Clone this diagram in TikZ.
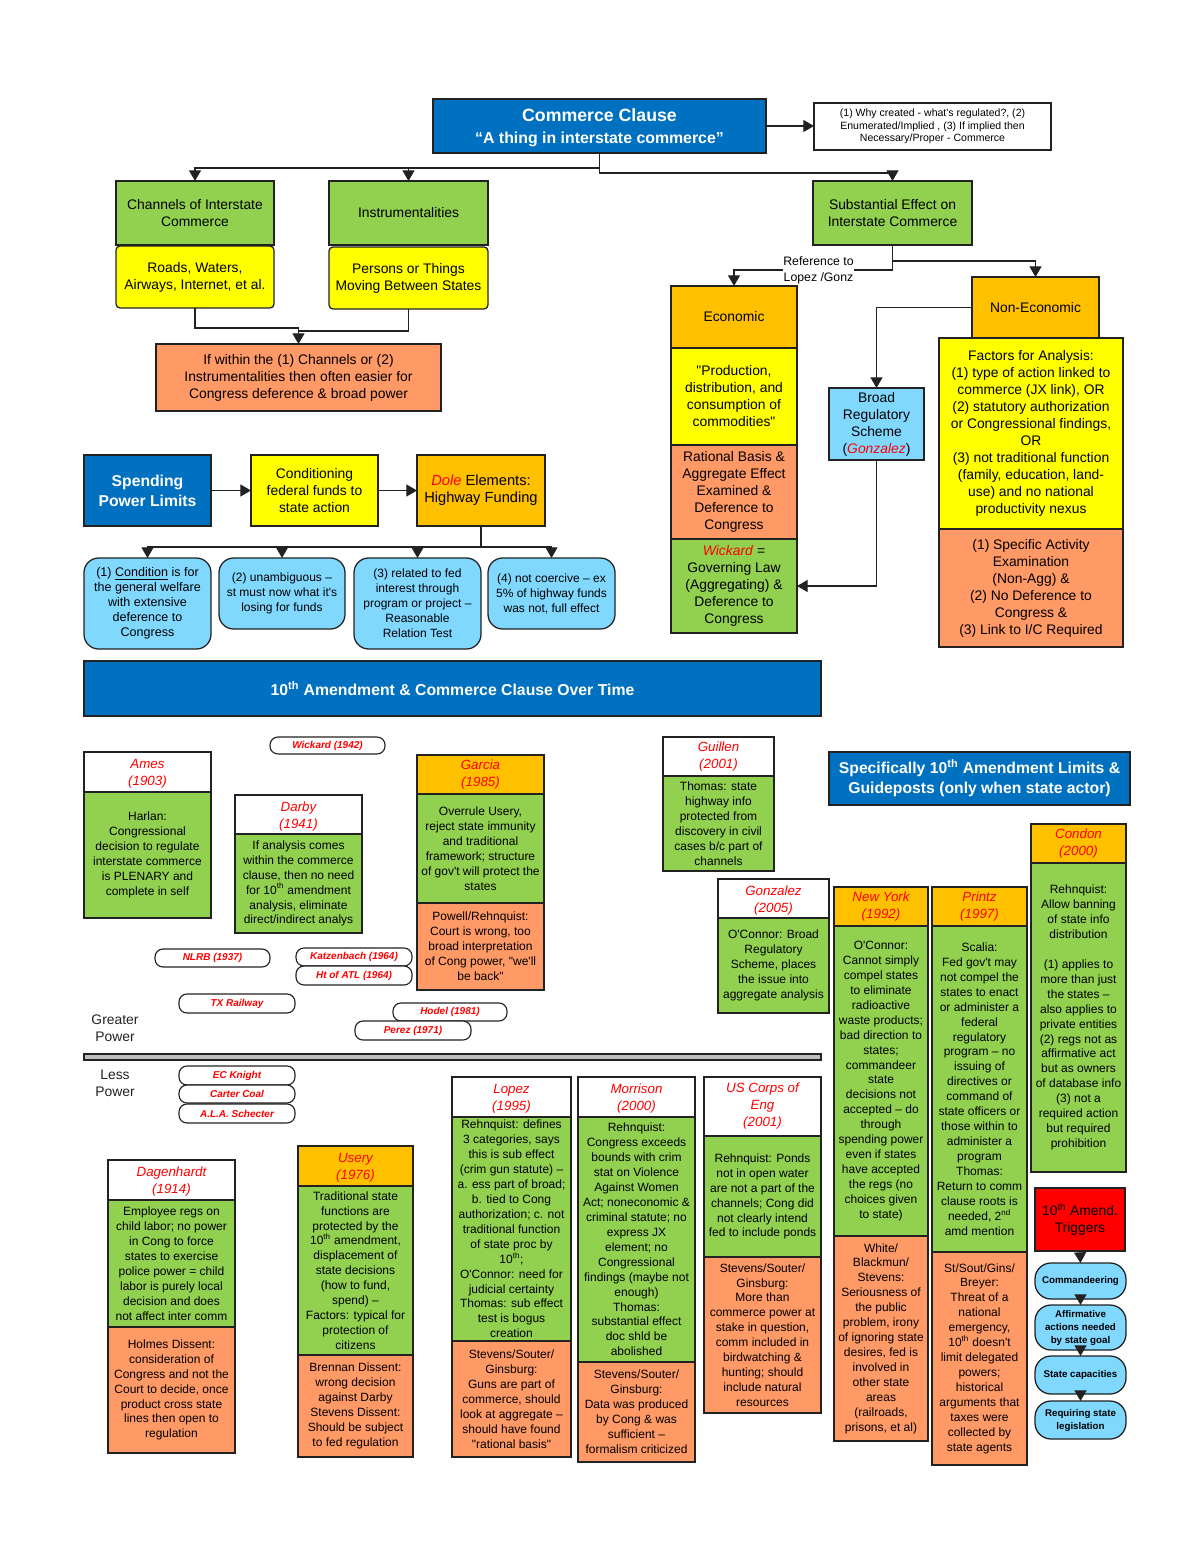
\documentclass[tikz,border=0pt]{standalone}
\usepackage{fontspec}
\setmainfont{Liberation Sans}[Ligatures=TeXOff]
\usetikzlibrary{arrows.meta}
\definecolor{cBlue}{HTML}{0070C0}
\definecolor{cGreen}{HTML}{92D050}
\definecolor{cYellow}{HTML}{FFFF00}
\definecolor{cOrange}{HTML}{FF9966}
\definecolor{cAmber}{HTML}{FFC000}
\definecolor{cSky}{HTML}{80D8FF}
\definecolor{cLine}{HTML}{222222}
\definecolor{cBar}{HTML}{BFBFBF}
\newcommand{\casered}[1]{\textcolor{red}{\textit{#1}}}
\newcommand{\nth}{\textsuperscript{th}}
\newcommand{\hdstrut}{\rule{0pt}{9.7pt}}
% \bx[style]{name}{x0}{y0}{x1}{y1}{text}
\newcommand{\bx}[7][]{%
  \pgfmathsetmacro{\bxcx}{(#3+#5)/2}\pgfmathsetmacro{\bxcy}{(#4+#6)/2}%
  \pgfmathsetmacro{\bxw}{(#5-#3)*0.75}\pgfmathsetmacro{\bxh}{(#6-#4)*0.75}%
  \node[boxbase,#1,minimum width=\bxw pt,minimum height=\bxh pt] (#2) at (\bxcx,\bxcy) {#7};}
\tikzset{
  boxbase/.style={draw=cLine,line width=0.95pt,inner sep=0pt,outer sep=0pt,align=center,text=black},
  fG/.style={fill=cGreen}, fY/.style={fill=cYellow}, fO/.style={fill=cOrange},
  fA/.style={fill=cAmber}, fB/.style={fill=cBlue,text=white}, fW/.style={fill=white},
  fS/.style={fill=cSky}, fR/.style={fill=red},
  big/.style={font=\fontsize{10.4}{12.75}\selectfont},
  small/.style={font=\fontsize{9}{11.2}\selectfont},
  head/.style={font=\fontsize{10}{12.75}\selectfont\itshape,text=red},
  rnd/.style={rounded corners=3pt},
  rndb/.style={rounded corners=11pt},
  casepill/.style={fill=white,rounded corners=6pt,line width=0.85pt,font=\fontsize{7.5}{9}\selectfont\bfseries\itshape,text=red},
  trigpill/.style={fS,rounded corners=12pt,font=\fontsize{7.3}{9.75}\selectfont\bfseries},
  conn/.style={draw=cLine,line width=0.95pt},
  arr/.style={conn,-{Triangle[length=8pt,width=9pt]}},
  title/.style={font=\fontsize{11.8}{15}\selectfont\bfseries}
}
\begin{document}
\begin{tikzpicture}[x=0.75pt,y=-0.75pt]
\useasboundingbox (0,0) rectangle (1200,1553);
% Commerce clause section
\bx[fB,font=\fontsize{11.9}{16.5}\selectfont\bfseries]{cc}{433}{99}{766}{153}{\rule{0pt}{12.5pt}{\fontsize{13.3}{16.5}\selectfont Commerce Clause}\\“A thing in interstate commerce”}
\bx[fW,font=\fontsize{7.9}{9.4}\selectfont,line width=0.85pt]{note}{814}{103}{1051}{150}{(1) Why created - what's regulated?, (2)\\Enumerated/Implied , (3) If implied then\\Necessary/Proper - Commerce}
\bx[fG,big]{chan}{116}{181}{274}{245}{Channels of Interstate\\Commerce}
\bx[fG,big]{inst}{329}{181}{488}{245}{Instrumentalities}
\bx[fY,big,rnd]{roads}{116}{246}{274}{308}{Roads, Waters,\\Airways, Internet, et al.}
\bx[fY,big,rnd]{pers}{329}{247}{488}{309}{Persons or Things\\Moving Between States}
\bx[fO,big]{ifw}{156}{344}{441}{411}{If within the (1) Channels or (2)\\Instrumentalities then often easier for\\Congress deference \& broad power}
\bx[fG,big]{sub}{813}{181}{972}{245}{Substantial Effect on\\Interstate Commerce}
\bx[fA,big]{eco}{671}{286}{797}{348}{Economic}
\bx[fY,big]{prod}{671}{348}{797}{445}{"Production,\\distribution, and\\consumption of\\commodities"}
\bx[fO,big]{rat}{671}{445}{797}{539}{Rational Basis \&\\Aggregate Effect\\Examined \&\\Deference to\\Congress}
\bx[fG,big]{wick}{671}{539}{797}{633}{\casered{Wickard} =\\Governing Law\\(Aggregating) \&\\Deference to\\Congress}
\bx[fA,big]{non}{972}{277}{1099}{338}{Non-Economic}
\bx[fY,big]{fact}{939}{338}{1123}{529}{Factors for Analysis:\\(1) type of action linked to\\commerce (JX link), OR\\(2) statutory authorization\\or Congressional findings,\\OR\\(3) not traditional function\\(family, education, land-\\use) and no national\\productivity nexus}
\bx[fO,big]{spec}{939}{529}{1123}{647}{(1) Specific Activity\\Examination\\(Non-Agg) \&\\(2) No Deference to\\Congress \&\\(3) Link to I/C Required}
\bx[fS,big]{broad}{829}{388}{924}{460}{Broad\\Regulatory\\Scheme\\(\casered{Gonzalez})}
% Spending
\bx[fB,title]{spend}{84}{455}{211}{526}{Spending\\Power Limits}
\bx[fY,big]{cond}{251}{455}{378}{526}{Conditioning\\federal funds to\\state action}
\bx[fA,font=\fontsize{11}{12.75}\selectfont]{dole}{417}{455}{545}{526}{\casered{Dole} Elements:\\Highway Funding}
\bx[fS,font=\fontsize{9.4}{11.2}\selectfont,rndb]{c1}{84}{558}{211}{649}{(1) \underline{Condition} is for\\the general welfare\\with extensive\\deference to\\Congress}
\bx[fS,small,rndb]{c2}{219}{558}{345}{629}{(2) unambiguous –\\st must now what it's\\losing for funds}
\bx[fS,small,rndb]{c3}{354}{558}{481}{649}{(3) related to fed\\interest through\\program or project –\\Reasonable\\Relation Test}
\bx[fS,small,rndb]{c4}{488}{558}{615}{629}{(4) not coercive – ex\\5\% of highway funds\\was not, full effect}
% Banner
\bx[fB,font=\fontsize{11.85}{14}\selectfont\bfseries]{ban}{84}{661}{821}{716}{10\nth{} Amendment \& Commerce Clause Over Time}
\bx[fB,title]{lim}{829}{752}{1130}{805}{Specifically 10\nth{} Amendment Limits \&\\Guideposts (only when state actor)}
% Timeline cases
\bx[fW,head]{amesh}{84}{752}{211}{792}{\hdstrut Ames\\(1903)}
\bx[fG,small]{amesb}{84}{792}{211}{918}{Harlan:\\Congressional\\decision to regulate\\interstate commerce\\is PLENARY and\\complete in self}
\bx[fW,head]{darh}{235}{795}{362}{834}{\hdstrut Darby\\(1941)}
\bx[fG,small]{darb}{235}{834}{362}{933}{If analysis comes\\within the commerce\\clause, then no need\\for 10\nth{} amendment\\analysis, eliminate\\direct/indirect analys}
\bx[fA,head]{garh}{417}{755}{544}{794}{Garcia\\(1985)}
\bx[fG,small]{garb}{417}{794}{544}{903}{Overrule Usery,\\reject state immunity\\and traditional\\framework; structure\\of gov't will protect the\\states}
\bx[fO,small]{garo}{417}{903}{544}{990}{Powell/Rehnquist:\\Court is wrong, too\\broad interpretation\\of Cong power, "we'll\\be back"}
\bx[fW,head]{guih}{663}{737}{774}{776}{Guillen\\(2001)}
\bx[fG,small]{guib}{663}{776}{774}{871}{Thomas: state\\highway info\\protected from\\discovery in civil\\cases b/c part of\\channels}
\bx[fW,head]{gonh}{718}{879}{829}{918}{\hdstrut Gonzalez\\(2005)}
\bx[fG,small]{gonb}{718}{918}{829}{1013}{O'Connor: Broad\\Regulatory\\Scheme, places\\the issue into\\aggregate analysis}
% Pills
\bx[casepill]{pwick}{270}{737}{385}{754}{Wickard (1942)}
\bx[casepill]{pnlrb}{155}{949}{270}{967}{NLRB (1937)}
\bx[casepill]{pkatz}{296}{948}{412}{966}{Katzenbach (1964)}
\bx[casepill]{patl}{296}{966}{412}{985}{Ht of ATL (1964)}
\bx[casepill]{ptx}{179}{994}{295}{1013}{TX Railway}
\bx[casepill]{phod}{393}{1003}{507}{1021}{Hodel (1981)}
\bx[casepill]{pper}{355}{1021}{471}{1040}{Perez (1971)}
\bx[casepill]{pkni}{179}{1066}{295}{1085}{EC Knight}
\bx[casepill]{pcar}{179}{1085}{295}{1103}{Carter Coal}
\bx[casepill]{pala}{179}{1104}{295}{1123}{A.L.A. Schecter}
\node[align=center,inner sep=0pt,font=\fontsize{10.4}{12.75}\selectfont,text=cLine] (grt) at (115,1028.5) {Greater\\Power};
\node[align=center,inner sep=0pt,font=\fontsize{10.4}{12.75}\selectfont,text=cLine] (les) at (115,1083.5) {Less\\Power};
\bx[fill=cBar,line width=0.85pt]{bar}{84}{1054}{821}{1060}{}
% Lower row
\bx[fW,head]{dagh}{108}{1160}{235}{1200}{\hdstrut Dagenhardt\\(1914)}
\bx[fG,small]{dagb}{108}{1200}{235}{1327}{Employee regs on\\child labor; no power\\in Cong to force\\states to exercise\\police power = child\\labor is purely local\\decision and does\\not affect inter comm}
\bx[fO,small]{dago}{108}{1327}{235}{1453}{Holmes Dissent:\\consideration of\\Congress and not the\\Court to decide, once\\product cross state\\lines then open to\\regulation}
\bx[fA,head]{ush}{298}{1146}{413}{1186}{\hdstrut Usery\\(1976)}
\bx[fG,small]{usb}{298}{1186}{413}{1355}{Traditional state\\functions are\\protected by the\\10\nth{} amendment,\\displacement of\\state decisions\\(how to fund,\\spend) –\\Factors: typical for\\protection of\\citizens}
\bx[fO,small]{uso}{298}{1355}{413}{1457}{Brennan Dissent:\\wrong decision\\against Darby\\Stevens Dissent:\\Should be subject\\to fed regulation}
\bx[fW,head]{loph}{452}{1077}{571}{1117}{\hdstrut Lopez\\(1995)}
\bx[fG,small]{lopb}{452}{1117}{571}{1341}{Rehnquist: defines\\3 categories, says\\this is sub effect\\(crim gun statute) –\\a. ess part of broad;\\b. tied to Cong\\authorization; c. not\\traditional function\\of state proc by\\10\nth;\\O'Connor: need for\\judicial certainty\\Thomas: sub effect\\test is bogus\\creation}
\bx[fO,small]{lopo}{452}{1341}{571}{1457}{Stevens/Souter/\\Ginsburg:\\Guns are part of\\commerce, should\\look at aggregate –\\should have found\\"rational basis"}
\bx[fW,head]{morh}{578}{1077}{695}{1117}{\hdstrut Morrison\\(2000)}
\bx[fG,small]{morb}{578}{1117}{695}{1362}{Rehnquist:\\Congress exceeds\\bounds with crim\\stat on Violence\\Against Women\\Act; noneconomic \&\\criminal statute; no\\express JX\\element; no\\Congressional\\findings (maybe not\\enough)\\Thomas:\\substantial effect\\doc shld be\\abolished}
\bx[fO,small]{moro}{578}{1362}{695}{1462}{Stevens/Souter/\\Ginsburg:\\Data was produced\\by Cong \& was\\sufficient –\\formalism criticized}
\bx[fW,head]{corh}{704}{1077}{821}{1136}{US Corps of\\Eng\\(2001)}
\bx[fG,small]{corb}{704}{1136}{821}{1257}{Rehnquist: Ponds\\not in open water\\are not a part of the\\channels; Cong did\\not clearly intend\\fed to include ponds}
\bx[fO,small]{coro}{704}{1257}{821}{1413}{Stevens/Souter/\\Ginsburg:\\More than\\commerce power at\\stake in question,\\comm included in\\birdwatching \&\\hunting; should\\include natural\\resources}
\bx[fA,head]{nyh}{834}{887}{928}{926}{New York\\(1992)}
\bx[fG,small]{nyb}{834}{926}{928}{1236}{O'Connor:\\Cannot simply\\compel states\\to eliminate\\radioactive\\waste products;\\bad direction to\\states;\\commandeer\\state\\decisions not\\accepted – do\\through\\spending power\\even if states\\have accepted\\the regs (no\\choices given\\to state)}
\bx[fO,small]{nyo}{834}{1236}{928}{1441}{White/\\Blackmun/\\Stevens:\\Seriousness of\\the public\\problem, irony\\of ignoring state\\desires, fed is\\involved in\\other state\\areas\\(railroads,\\prisons, et al)}
\bx[fA,head]{prh}{932}{887}{1027}{926}{Printz\\(1997)}
\bx[fG,small]{prb}{932}{926}{1027}{1252}{Scalia:\\Fed gov't may\\not compel the\\states to enact\\or administer a\\federal\\regulatory\\program – no\\issuing of\\directives or\\command of\\state officers or\\those within to\\administer a\\program\\Thomas:\\Return to comm\\clause roots is\\needed, 2\textsuperscript{nd}\\amd mention}
\bx[fO,small]{pro}{932}{1252}{1027}{1465}{St/Sout/Gins/\\Breyer:\\Threat of a\\national\\emergency,\\10\nth{} doesn't\\limit delegated\\powers;\\historical\\arguments that\\taxes were\\collected by\\state agents}
\bx[fA,head]{conh}{1031}{824}{1126}{863}{Condon\\(2000)}
\bx[fG,small]{conb}{1031}{863}{1126}{1172}{Rehnquist:\\Allow banning\\of state info\\distribution\\~\\(1) applies to\\more than just\\the states –\\also applies to\\private entities\\(2) regs not as\\affirmative act\\but as owners\\of database info\\(3) not a\\required action\\but required\\prohibition}
\bx[fR,big]{trig}{1035}{1188}{1125}{1251}{10\nth{} Amend.\\Triggers}
\bx[trigpill]{t1}{1035}{1263}{1126}{1299}{Commandeering}
\bx[trigpill]{t2}{1035}{1305}{1126}{1350}{Affirmative\\actions needed\\by state goal}
\bx[trigpill]{t3}{1035}{1356}{1126}{1394}{State capacities}
\bx[trigpill]{t4}{1035}{1401}{1126}{1439}{Requiring state\\legislation}
% Connectors
\draw[arr] (cc.east) -- (cc.east -| note.west);
\draw[arr] (cc.south) -- ++(0,15) -| (chan.north);
\draw[arr] (cc.south) -- ++(0,15) -| (inst.north);
\draw[arr] (cc.south) -- ++(0,20) -| (sub.north);
\coordinate (joinL) at (ifw.north |- 0,328);
\coordinate (joinR) at (ifw.north |- 0,331);
\draw[conn] (roads.south) |- (joinL);
\draw[conn] (pers.south) |- (joinR);
\draw[arr] (joinL) -- (ifw.north);
\draw[arr] (sub.south) -- ++(0,25) -| (eco.north);
\draw[arr] (sub.south) -- ++(0,16) -| (non.north);
\node[fill=white,inner sep=0pt,align=center,font=\fontsize{9.2}{12}\selectfont] (refl) at (818.5,270.5) {Reference to\\Lopez /Gonz};
\draw[arr] (non.west) -| (broad.north);
\coordinate (wkt) at (broad.south |- wick.east);
\draw[conn] (broad.south) -- (wkt);
\draw[arr] (wkt) -- (wick.east);
\draw[arr] (spend.east) -- (cond.west);
\draw[arr] (cond.east) -- (dole.west);
\coordinate (dtop) at (dole.south |- 0,547);
\draw[conn] (dole.south) -- (dtop);
\draw[arr] (dtop) -| (c1.north);
\draw[arr] (dtop) -| (c2.north);
\draw[arr] (dtop) -| (c3.north);
\draw[arr] (dtop) -| (c4.north);
\draw[arr] (trig.south) -- (t1.north);
\draw[arr] (t1.south) -- (t2.north);
\draw[arr] (t2.south) -- (t3.north);
\draw[arr] (t3.south) -- (t4.north);
\end{tikzpicture}
\end{document}
